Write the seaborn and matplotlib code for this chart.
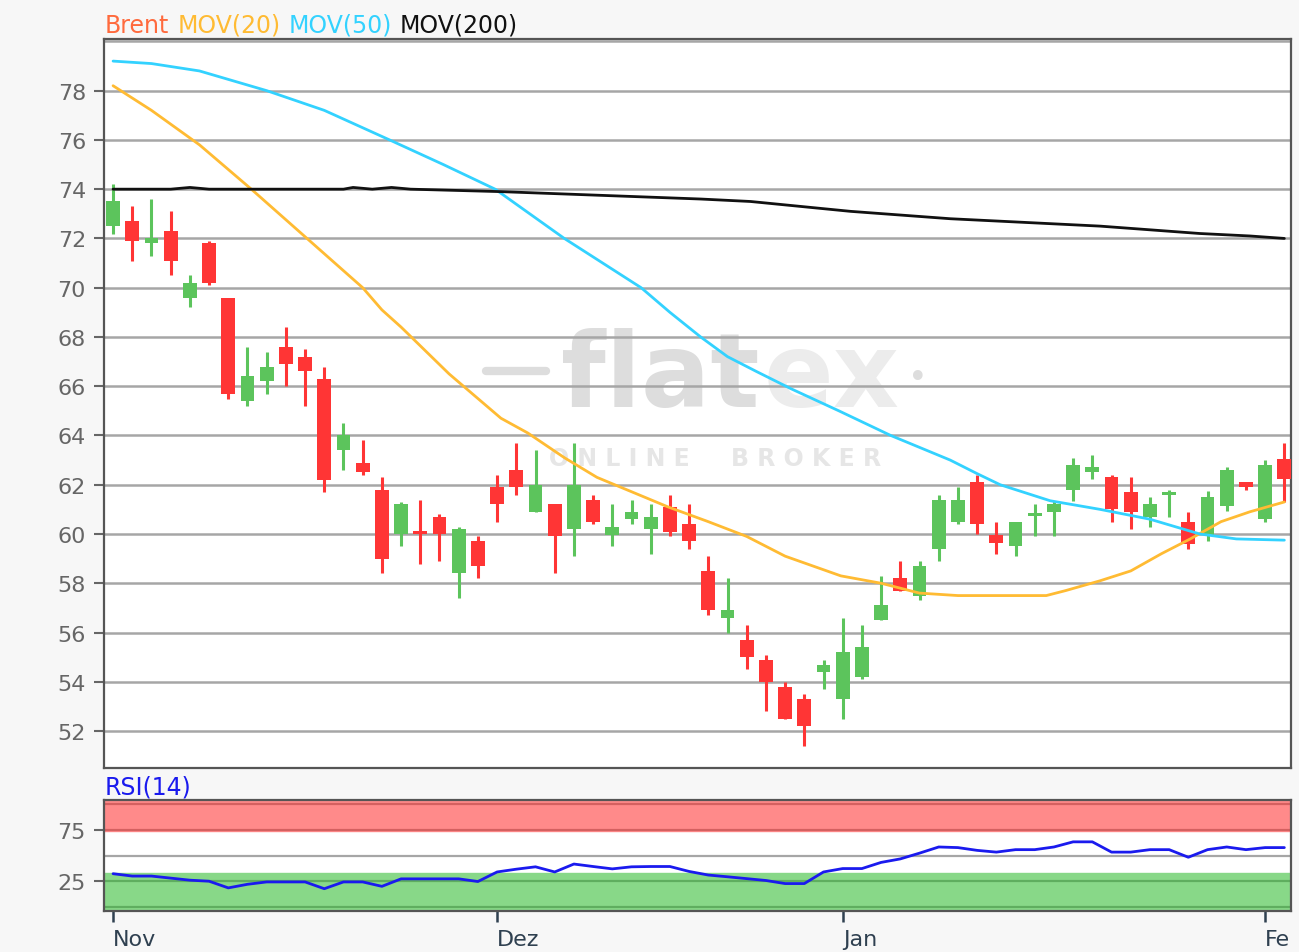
import numpy as np
import pandas as pd
import seaborn as sns
import matplotlib.pyplot as plt
from matplotlib.transforms import Bbox

# candles, one per trading day (index 0 = first day of Nov)
opens = [72.5, 72.7, 71.8, 72.3, 69.6, 71.8, 69.6, 65.4, 66.2, 67.6,
         67.2, 66.3, 63.4, 62.9, 61.8, 60.0, 60.1, 60.7, 58.4, 59.7,
         61.9, 62.6, 60.9, 61.2, 60.2, 61.4, 59.95, 60.6, 60.2, 61.1,
         60.4, 58.5, 56.6, 55.7, 54.9, 53.8, 53.3, 54.4, 53.3, 54.2,
         56.5, 58.2, 57.5, 59.4, 60.5, 62.1, 59.95, 59.5, 60.75, 60.9,
         61.8, 62.5, 62.3, 61.7, 60.7, 61.6, 60.5, 59.95, 61.15, 62.1,
         60.6, 63.05]
highs = [74.2, 73.3, 73.6, 73.1, 70.5, 71.9, 69.6, 67.6, 67.4, 68.4,
         67.5, 66.8, 64.5, 63.8, 62.3, 61.3, 61.4, 60.8, 60.3, 59.9,
         62.4, 63.7, 63.4, 61.2, 63.7, 61.6, 61.2, 61.4, 61.2, 61.6,
         61.2, 59.1, 58.2, 56.3, 55.1, 54.0, 53.5, 54.9, 56.6, 56.3,
         58.3, 58.9, 58.9, 61.6, 61.9, 62.4, 60.5, 60.5, 61.2, 61.35,
         63.1, 63.2, 62.4, 62.3, 61.5, 61.8, 60.9, 61.75, 62.7, 62.1,
         63.0, 63.7]
lows = [72.2, 71.1, 71.3, 70.5, 69.2, 70.1, 65.5, 65.2, 65.7, 66.0,
        65.2, 61.7, 62.6, 62.4, 58.4, 59.5, 58.8, 58.9, 57.4, 58.2,
        60.5, 61.6, 60.9, 58.4, 59.1, 60.4, 59.5, 60.4, 59.2, 59.9,
        59.4, 56.7, 56.0, 54.5, 52.8, 52.5, 51.4, 53.7, 52.5, 54.1,
        56.5, 57.7, 57.3, 58.9, 60.4, 60.0, 59.2, 59.1, 59.9, 59.9,
        61.35, 62.25, 60.5, 60.2, 60.3, 60.7, 59.4, 59.7, 60.95, 61.8,
        60.5, 61.3]
closes = [73.5, 71.9, 72.0, 71.1, 70.2, 70.2, 65.7, 66.4, 66.8, 66.9,
          66.6, 62.2, 64.0, 62.5, 59.0, 61.2, 60.0, 60.0, 60.2, 58.7,
          61.2, 61.9, 62.0, 59.9, 62.0, 60.5, 60.3, 60.9, 60.7, 60.1,
          59.7, 56.9, 56.9, 55.0, 54.0, 52.5, 52.2, 54.7, 55.2, 55.4,
          57.1, 57.7, 58.7, 61.4, 61.4, 60.4, 59.65, 60.5, 60.85, 61.2,
          62.8, 62.7, 61.0, 60.9, 61.2, 61.7, 59.6, 61.5, 62.6, 61.9,
          62.8, 62.25]

# moving averages (day index, value)
mov20_day = [0, 2, 4.5, 7.2, 10.1, 13, 14, 15, 17.5, 20.2, 21.6, 23.5, 25.2,
             28.9, 31, 33, 35, 37.9, 40, 42, 44, 48.6, 49.6, 51.4, 53, 54.6,
             56.1, 57.7, 59.2, 61]
mov20_val = [78.2, 77.2, 75.8, 74.0, 72.0, 70.0, 69.1, 68.4, 66.5, 64.7, 64.1,
             63.1, 62.3, 61.1, 60.5, 59.9, 59.1, 58.3, 58.0, 57.6, 57.5, 57.5,
             57.7, 58.1, 58.5, 59.2, 59.8, 60.5, 60.9, 61.3]
mov50_day = [0, 2, 4.5, 8, 11, 14.4, 17.2, 19.9, 21.7, 23.5, 25.5, 27.5, 29,
             30.6, 32, 33.5, 35.3, 37.8, 40.5, 43.6, 45, 46.2, 48.8, 51.4, 54,
             56.6, 58.5, 61]
mov50_val = [79.2, 79.1, 78.8, 78.0, 77.2, 76.0, 75.0, 74.0, 73.0, 72.0, 71.0,
             70.0, 69.0, 68.0, 67.2, 66.6, 65.9, 65.0, 64.0, 63.0, 62.45, 62.0,
             61.35, 61.0, 60.6, 60.0, 59.8, 59.75]
mov200_day = [0, 3, 4, 5, 12, 12.5, 13.5, 14.5, 15.5, 20.2, 25.4, 30.6, 33.2,
              35.8, 38.4, 41, 43.6, 46.2, 48.8, 51.4, 54, 56.6, 59.2, 61]
mov200_val = [74.0, 74.0, 74.07, 74.0, 74.0, 74.07, 74.0, 74.07, 74.0, 73.9,
              73.75, 73.6, 73.5, 73.3, 73.1, 72.95, 72.8, 72.7, 72.6, 72.5,
              72.35, 72.2, 72.1, 72.0]

rsi = [32.3, 30, 30, 28, 26, 25, 18.5, 22, 24.3, 24.3,
       24.3, 17.7, 24.3, 24.3, 20, 27.3, 27.3, 27.3, 27.3, 24.7,
       34, 36.7, 39, 34, 41.7, 39.3, 37, 39, 39.3, 39.3,
       34.5, 31, 29.3, 27.5, 25.7, 22.7, 22.7, 34, 37.3, 37.3,
       43.3, 46.7, 52.3, 58.3, 57.7, 55, 53.3, 55.7, 55.7, 58.3,
       63.3, 63.3, 53.3, 53.3, 55.7, 55.7, 48.3, 55.7, 58.3, 55.7,
       57.7, 57.7]

month_pos = [0, 20, 38, 60]
month_labels = ['Nov', 'Dez', 'Jan', 'Feb']

sns.set_theme(style='white')
plt.rcParams['font.family'] = ['DejaVu Sans']

bg = '#f7f7f7'
fig = plt.figure(figsize=(12.99, 9.53), dpi=100, facecolor=bg)
ax = fig.add_axes([0.0801, 0.1931, 0.9138, 0.765])
ax2 = fig.add_axes([0.0801, 0.043, 0.9138, 0.1165])

days = np.arange(len(opens))
df = pd.DataFrame({'day': days, 'open': opens, 'high': highs,
                   'low': lows, 'close': closes, 'rsi': rsi})
up = df['close'] >= df['open']
red, green = '#ff3535', '#5cc45c'
cols = np.where(up, green, red)

# watermark
ax.text(0.552, 0.535, 'flat', transform=ax.transAxes, fontsize=74,
        fontweight='bold', color='#dddddd', ha='right', va='center', zorder=0)
ax.text(0.556, 0.535, 'ex', transform=ax.transAxes, fontsize=74,
        fontweight='bold', color='#ececec', ha='left', va='center', zorder=0)
ax.text(0.677, 0.535, '•', transform=ax.transAxes, fontsize=24,
        color='#dddddd', ha='left', va='center', zorder=0)
ax.plot([0.322, 0.372], [0.545, 0.545], transform=ax.transAxes,
        color='#dddddd', lw=6, solid_capstyle='round', zorder=0)
ax.text(0.515, 0.425, 'O N L I N E     B R O K E R', transform=ax.transAxes,
        fontsize=17, fontweight='bold', color='#e6e6e6', ha='center',
        va='center', zorder=0)

# grid
for v in range(52, 81, 2):
    ax.axhline(v, color='#a6a6a6', lw=1.8, zorder=1)

# candles
ax.vlines(df['day'], df['low'], df['high'], colors=cols, lw=2.2, zorder=3)
body = np.maximum((df['close'] - df['open']).abs(), 0.12)
ax.bar(df['day'], body, bottom=np.minimum(df['open'], df['close']),
       width=0.72, color=cols, linewidth=0, zorder=4)

sns.lineplot(x=mov20_day, y=mov20_val, ax=ax, color='#ffbb33', lw=2, zorder=5)
sns.lineplot(x=mov50_day, y=mov50_val, ax=ax, color='#33d2ff', lw=2, zorder=5)
sns.lineplot(x=mov200_day, y=mov200_val, ax=ax, color='#111111', lw=2, zorder=5)

ax.set_xlim(-0.47, 61.35)
ax.set_ylim(50.5, 80.1)
ax.set_yticks(range(52, 79, 2))
ax.set_xticks([])
ax.set_facecolor('white')
ax.set_xlabel('')
ax.set_ylabel('')
for s in ax.spines.values():
    s.set_color('#555555')
    s.set_linewidth(1.6)
ax.tick_params(axis='y', left=True, length=7, width=1.5, color='#666666',
               labelcolor='#666666', labelsize=16, pad=6)

# RSI panel
ax2.set_facecolor('white')
ax2.axhspan(74, 104, color='#ff8a8a', zorder=0)
ax2.axhspan(-4, 33, color='#88d888', zorder=0)
for v in (100, 75):
    ax2.axhline(v, color='#d46060', lw=1.6, zorder=1)
for v in (25, 0):
    ax2.axhline(v, color='#5fae5f', lw=1.6, zorder=1)
ax2.axhline(50, color='#a6a6a6', lw=1.6, zorder=1)
sns.lineplot(data=df, x='day', y='rsi', ax=ax2, color='#1a1aee', lw=2, zorder=3)
ax2.set_xlim(-0.47, 61.35)
ax2.set_ylim(-4, 104)
ax2.set_yticks([25, 75])
ax2.set_xticks(month_pos)
ax2.set_xticklabels(month_labels, ha='left')
ax2.set_xlabel('')
ax2.set_ylabel('')
for s in ax2.spines.values():
    s.set_color('#555555')
    s.set_linewidth(1.6)
ax2.tick_params(axis='y', left=True, length=7, width=1.5, color='#666666',
                labelcolor='#666666', labelsize=16, pad=6)
ax2.tick_params(axis='x', bottom=True, length=8, width=1.8, color='#2f4050',
                labelcolor='#2f4050', labelsize=16, pad=5)
# the last month label is cut at the right edge of the chart
clip = Bbox([[0, 0], [1291, 953]])
for lab in ax2.get_xticklabels():
    lab.set_clip_box(clip)
    lab.set_clip_on(True)

# title strings
fig.canvas.draw()
r = fig.canvas.get_renderer()
x0 = 105 / 1299
for word, c in [('Brent', '#ff6a3d'), ('MOV(20)', '#ffbb33'),
                ('MOV(50)', '#33d2ff'), ('MOV(200)', '#111111')]:
    t = fig.text(x0, 1 - 26 / 953, word, color=c, fontsize=17, va='center')
    bb = t.get_window_extent(renderer=r)
    x0 += (bb.width + 8) / 1299
fig.text(105 / 1299, 1 - 788 / 953, 'RSI(14)', color='#1a1aee',
         fontsize=17, va='center')

fig.savefig('out.png', dpi=100, facecolor=bg)
